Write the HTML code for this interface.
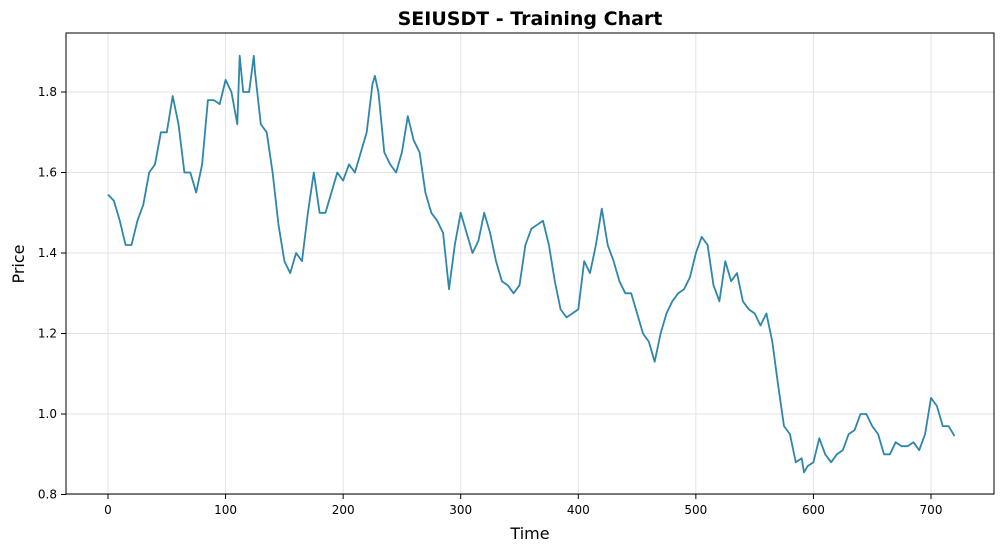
<!DOCTYPE html>
<html><head><meta charset="utf-8"><style>
body{margin:0;background:#fff;}
svg{display:block;font-family:"DejaVu Sans","Liberation Sans",sans-serif;}
</style></head><body>
<svg id="chart" width="1005" height="552">
<text x="530" y="25" text-anchor="middle" font-size="19" font-weight="bold">SEIUSDT - Training Chart</text>
<text x="530" y="539" text-anchor="middle" font-size="16">Time</text>
<text x="24" y="264" text-anchor="middle" font-size="16" transform="rotate(-90 24 264)">Price</text>
<g id="grid"></g><g id="ticks"></g><g id="series"></g>
<rect x="66" y="33" width="928" height="461" fill="none" stroke="#000" stroke-width="1"/>
</svg>
<script>
const times=[0,5,10,15,20,25,30,35,40,45,50,55,60,65,70,75,80,85,90,95,100,105,110,112,115,120,124,125,130,135,140,145,150,155,160,165,170,175,180,185,190,195,200,205,210,215,220,225,227,230,235,240,245,250,255,260,265,270,275,280,285,290,295,300,305,310,315,320,325,330,335,340,345,350,355,360,365,370,375,380,385,390,395,400,405,410,415,420,425,430,435,440,445,450,455,460,465,470,475,480,485,490,495,500,505,510,515,520,525,530,535,540,545,550,555,560,565,570,575,580,585,590,592,595,600,605,610,615,620,625,630,635,640,645,650,655,660,665,670,675,680,685,690,695,700,705,710,715,720];
const prices=[1.545,1.53,1.48,1.42,1.42,1.48,1.52,1.6,1.62,1.7,1.7,1.79,1.72,1.6,1.6,1.55,1.62,1.78,1.78,1.77,1.83,1.8,1.72,1.89,1.8,1.8,1.89,1.85,1.72,1.7,1.6,1.47,1.38,1.35,1.4,1.38,1.5,1.6,1.5,1.5,1.55,1.6,1.58,1.62,1.6,1.65,1.7,1.82,1.84,1.8,1.65,1.62,1.6,1.65,1.74,1.68,1.65,1.55,1.5,1.48,1.45,1.31,1.42,1.5,1.45,1.4,1.43,1.5,1.45,1.38,1.33,1.32,1.3,1.32,1.42,1.46,1.47,1.48,1.42,1.33,1.26,1.24,1.25,1.26,1.38,1.35,1.42,1.51,1.42,1.38,1.33,1.3,1.3,1.25,1.2,1.18,1.13,1.2,1.25,1.28,1.3,1.31,1.34,1.4,1.44,1.42,1.32,1.28,1.38,1.33,1.35,1.28,1.26,1.25,1.22,1.25,1.18,1.07,0.97,0.95,0.88,0.89,0.855,0.87,0.88,0.94,0.9,0.88,0.9,0.91,0.95,0.96,1.0,1.0,0.97,0.95,0.9,0.9,0.93,0.92,0.92,0.93,0.91,0.95,1.04,1.02,0.97,0.97,0.945];
const xTicks=[0,100,200,300,400,500,600,700];
const yTicks=[0.8,1.0,1.2,1.4,1.6,1.8];
const NS='http://www.w3.org/2000/svg';
function xs(t){return 108+t*(823/700);}
function ys(v){return 494.5-(v-0.8)*(402.5/1.0);}
const grid=document.getElementById('grid'),ticks=document.getElementById('ticks'),series=document.getElementById('series');
function mk(tag,attrs,parent){const e=document.createElementNS(NS,tag);for(const k in attrs)e.setAttribute(k,attrs[k]);parent.appendChild(e);return e;}
xTicks.forEach(t=>{
 const g=mk('line',{x1:xs(t),x2:xs(t),y1:33,y2:494,stroke:'#e3e3e3','stroke-width':1},grid);
 
 
 mk('line',{x1:xs(t),x2:xs(t),y1:494,y2:499,stroke:'#000'},ticks);
 const l=mk('text',{x:xs(t),y:514,'text-anchor':'middle','font-size':12},ticks);
 l.textContent=t;
 
 
});
yTicks.forEach(v=>{
 const g=mk('line',{x1:66,x2:994,y1:ys(v),y2:ys(v),stroke:'#e3e3e3','stroke-width':1},grid);
 
 
 mk('line',{x1:61,x2:66,y1:ys(v),y2:ys(v),stroke:'#000'},ticks);
 const l=mk('text',{x:57,y:ys(v)+4,'text-anchor':'end','font-size':12},ticks);
 l.textContent=v.toFixed(1);
 
 
});
const d=times.map((t,i)=>(i?'L':'M')+xs(t).toFixed(1)+','+ys(prices[i]).toFixed(1)).join(' ');
const p=mk('path',{d:d,fill:'none',stroke:'#2e86ab','stroke-width':1.8,'stroke-linejoin':'round'},series);


</script>
</body></html>
